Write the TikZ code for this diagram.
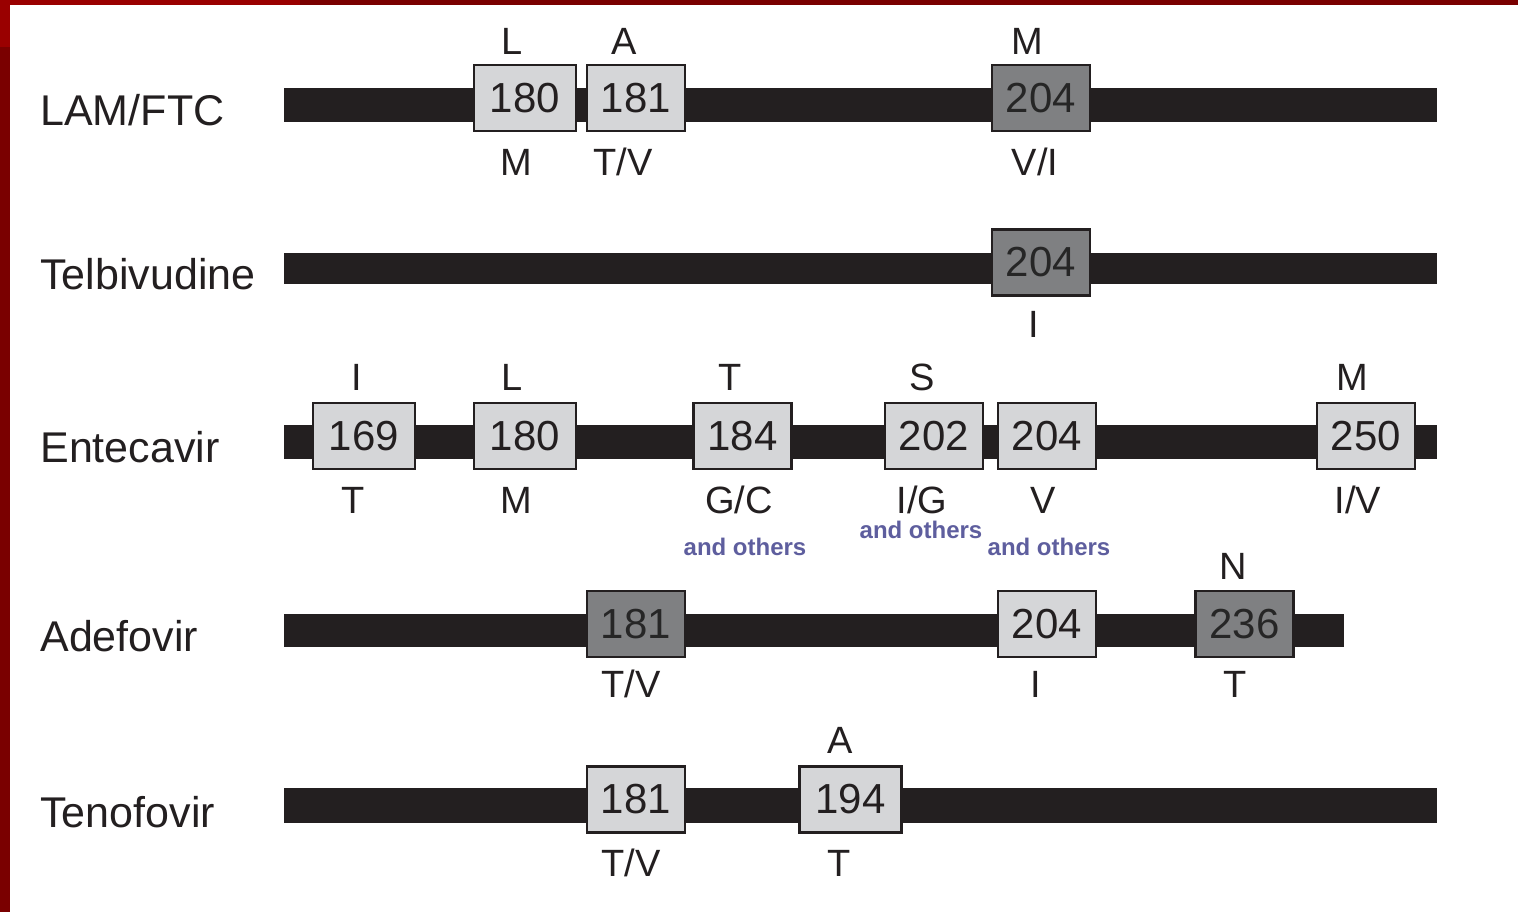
\documentclass[tikz,border=0pt]{standalone}
\usepackage{fontspec}
\setmainfont{Liberation Sans}
\definecolor{barc}{HTML}{231F20}
\definecolor{lightbox}{HTML}{D5D6D8}
\definecolor{darkbox}{HTML}{7F8082}
\definecolor{othc}{HTML}{5E5E9E}
\definecolor{frameA}{HTML}{7A0000}
\definecolor{frameB}{HTML}{9A0000}
\begin{document}
\begin{tikzpicture}[x=0.5pt,y=-0.5pt,
  lbox/.style={draw=barc,line width=1.4pt,fill=lightbox,minimum height=33pt,minimum width=49pt,inner sep=0pt,font=\fontsize{21}{21}\selectfont,text=barc},
  dbox/.style={lbox,fill=darkbox,text=black!85},
  wide/.style={minimum width=51pt},
  aa/.style={anchor=base,inner sep=0pt,font=\fontsize{19}{19}\selectfont,text=barc},
  drug/.style={anchor=base west,inner sep=0pt,font=\fontsize{21.5}{21.5}\selectfont,text=barc},
  oth/.style={anchor=base,inner sep=0pt,font=\fontsize{12}{12}\selectfont\bfseries,text=othc},
  bar/.style={fill=barc}]
\useasboundingbox (0,0) rectangle (1518,912);
\fill[white] (0,0) rectangle (1518,912);
% frame
\fill[frameA] (0,0) rectangle (1518,5);
\fill[frameA] (0,0) rectangle (10,912);
\fill[frameB] (0,0) rectangle (10,47);
\fill[frameB] (0,0) rectangle (300,5);

% Row 1: LAM/FTC
\node[drug] (d1) at (40,125) {LAM/FTC};
\fill[bar] (284,88) rectangle (1437,122);
\node[lbox,wide] (r1a) at (525,98) {180};
\node[lbox] (r1b) at (636,98) {181};
\node[dbox] (r1c) at (1041,98) {204};
\node[aa] (r1at) at (512,54) {L};
\node[aa] (r1bt) at (624,54) {A};
\node[aa] (r1ct) at (1027,54) {M};
\node[aa] (r1ab) at (516,175) {M};
\node[aa] (r1bb) at (623,175) {T/V};
\node[aa] (r1cb) at (1035,175) {V/I};

% Row 2: Telbivudine
\node[drug] (d2) at (40,289) {Telbivudine};
\fill[bar] (284,253) rectangle (1437,284);
\node[dbox] (r2a) at (1041,262.5) {204};
\node[aa] (r2ab) at (1034,337) {I};

% Row 3: Entecavir
\node[drug] (d3) at (40,462) {Entecavir};
\fill[bar] (284,425) rectangle (1437,459);
\node[lbox,wide] (r3a) at (364,436) {169};
\node[lbox,wide] (r3b) at (525,436) {180};
\node[lbox] (r3c) at (742.5,436) {184};
\node[lbox] (r3d) at (934,436) {202};
\node[lbox] (r3e) at (1047,436) {204};
\node[lbox] (r3f) at (1366,436) {250};
\node[aa] (r3at) at (357,390) {I};
\node[aa] (r3bt) at (512,390) {L};
\node[aa] (r3ct) at (730,390) {T};
\node[aa] (r3dt) at (922,390) {S};
\node[aa] (r3ft) at (1352,390) {M};
\node[aa] (r3ab) at (353,513) {T};
\node[aa] (r3bb) at (516,513) {M};
\node[aa] (r3cb) at (739,513) {G/C};
\node[aa] (r3db) at (922,513) {I/G};
\node[aa] (r3eb) at (1043,513) {V};
\node[aa] (r3fb) at (1358,513) {I/V};
\node[oth] (o1) at (745,555) {and others};
\node[oth] (o2) at (921,538) {and others};
\node[oth] (o3) at (1049,555) {and others};

% Row 4: Adefovir
\node[drug] (d4) at (40,651) {Adefovir};
\fill[bar] (284,614) rectangle (1344,647);
\node[dbox] (r4a) at (636,624) {181};
\node[lbox] (r4b) at (1047,624) {204};
\node[dbox] (r4c) at (1244.5,624) {236};
\node[aa] (r4ct) at (1233,579) {N};
\node[aa] (r4ab) at (631,697) {T/V};
\node[aa] (r4bb) at (1036,697) {I};
\node[aa] (r4cb) at (1235,697) {T};

% Row 5: Tenofovir
\node[drug] (d5) at (40,827) {Tenofovir};
\fill[bar] (284,788) rectangle (1437,823);
\node[lbox] (r5a) at (636,799.5) {181};
\node[lbox,wide] (r5b) at (850.5,799.5) {194};
\node[aa] (r5bt) at (840,753) {A};
\node[aa] (r5ab) at (631,876) {T/V};
\node[aa] (r5bb) at (839,876) {T};
\end{tikzpicture}
\end{document}
